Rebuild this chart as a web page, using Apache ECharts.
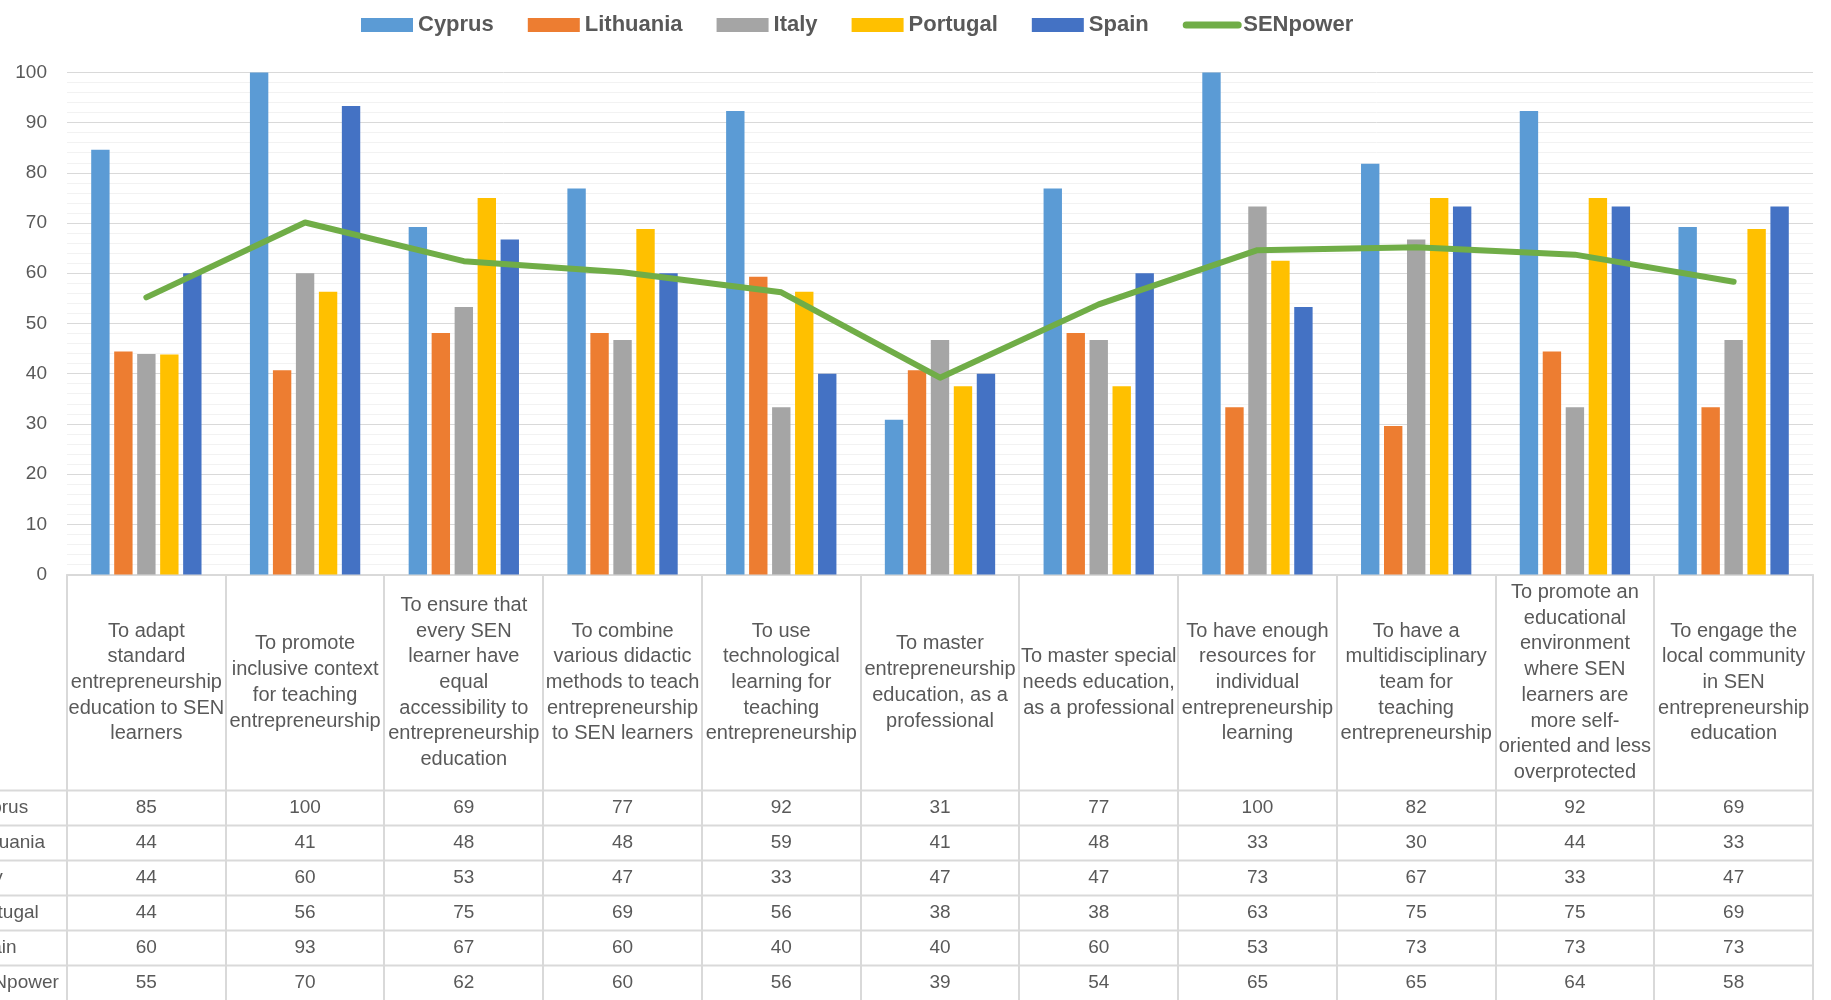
<!DOCTYPE html>
<html>
<head>
<meta charset="utf-8">
<title>SENpower</title>
<script src="https://cdn.jsdelivr.net/npm/echarts@6/dist/echarts.min.js"></script>
<style>
  html, body { margin: 0; padding: 0; background: #fff; }
  #main { width: 1831px; height: 1000px; }
</style>
</head>
<body>
<div id="main"></div>
<script>
// categories (line breaks as in the data table header)
var categories = [
  'To adapt\nstandard\nentrepreneurship\neducation to SEN\nlearners',
  'To promote\ninclusive context\nfor teaching\nentrepreneurship',
  'To ensure that\nevery SEN\nlearner have\nequal\naccessibility to\nentrepreneurship\neducation',
  'To combine\nvarious didactic\nmethods to teach\nentrepreneurship\nto SEN learners',
  'To use\ntechnological\nlearning for\nteaching\nentrepreneurship',
  'To master\nentrepreneurship\neducation, as a\nprofessional',
  'To master special\nneeds education,\nas a professional',
  'To have enough\nresources for\nindividual\nentrepreneurship\nlearning',
  'To have a\nmultidisciplinary\nteam for\nteaching\nentrepreneurship',
  'To promote an\neducational\nenvironment\nwhere SEN\nlearners are\nmore self-\noriented and less\noverprotected',
  'To engage the\nlocal community\nin SEN\nentrepreneurship\neducation'
];

var seriesNames = ['Cyprus', 'Lithuania', 'Italy', 'Portugal', 'Spain', 'SENpower'];
var cyprus    = [84.6, 100, 69.2, 76.9, 92.3, 30.8, 76.9, 100, 81.8, 92.3, 69.2];
var lithuania = [44.4, 40.7, 48.1, 48.1, 59.3, 40.7, 48.1, 33.3, 29.6, 44.4, 33.3];
var italy     = [43.9, 60, 53.3, 46.7, 33.3, 46.7, 46.7, 73.3, 66.7, 33.3, 46.7];
var portugal  = [43.8, 56.3, 75, 68.8, 56.3, 37.5, 37.5, 62.5, 75, 75, 68.8];
var spain     = [60, 93.3, 66.7, 60, 40, 40, 60, 53.3, 73.3, 73.3, 73.3];
var senpower  = [55.2, 70.1, 62.4, 60.2, 56.2, 39.2, 53.8, 64.6, 65.2, 63.7, 58.3];

var colors = ['#5B9BD5', '#ED7D31', '#A5A5A5', '#FFC000', '#4472C4', '#70AD47'];

(function () {
  var myChart = echarts.init(document.getElementById('main'));

  // plot area (px)
  var gridLeft = 67, gridRight = 18, gridTop = 72.4, gridBottom = 425.5;
  var chartW = 1831, chartH = 1000;
  var axisY = chartH - gridBottom;
  var catW = (chartW - gridLeft - gridRight) / categories.length;
  var headerH = 216, rowH = 35;
  var font = 'Liberation Sans';
  var txtColor = '#595959';
  var lineColor = '#D9D9D9';

  // data table under the chart, built from the same arrays
  var tableRows = [cyprus, lithuania, italy, portugal, spain, senpower];
  var graphics = [];
  for (var k = 0; k <= categories.length; k++) {
    var x = Math.round(gridLeft + k * catW);
    graphics.push({
      type: 'line',
      shape: { x1: x, y1: axisY, x2: x, y2: chartH },
      style: { stroke: lineColor, lineWidth: 2 }
    });
  }
  for (var r = 0; r < tableRows.length; r++) {
    var rowTop = axisY + headerH + r * rowH;
    graphics.push({
      type: 'line',
      shape: { x1: 0, y1: rowTop, x2: chartW - gridRight, y2: rowTop },
      style: { stroke: lineColor, lineWidth: 2 }
    });
    graphics.push({
      type: 'text',
      x: -32, y: rowTop + rowH / 2,
      style: {
        text: seriesNames[r], fill: txtColor, font: '19px "' + font + '"',
        textAlign: 'left', textVerticalAlign: 'middle'
      }
    });
    for (var c = 0; c < categories.length; c++) {
      graphics.push({
        type: 'text',
        x: gridLeft + (c + 0.5) * catW, y: rowTop + rowH / 2,
        style: {
          text: String(Math.round(tableRows[r][c])), fill: txtColor,
          font: '19px "' + font + '"', textAlign: 'center', textVerticalAlign: 'middle'
        }
      });
    }
  }

  function barSeries(name, data, color) {
    return {
      name: name,
      type: 'bar',
      data: data,
      barGap: '25%',
      barCategoryGap: '30.5%',
      itemStyle: { color: color },
      emphasis: { disabled: true }
    };
  }

  var option = {
    animation: false,
    color: colors,
    textStyle: { fontFamily: font },
    legend: {
      left: 356,
      top: 9,
      itemWidth: 52,
      itemHeight: 14,
      itemGap: 34,
      textStyle: { fontSize: 22, fontWeight: 'bold', color: txtColor, fontFamily: font },
      data: [
        { name: 'Cyprus', icon: 'rect' },
        { name: 'Lithuania', icon: 'rect' },
        { name: 'Italy', icon: 'rect' },
        { name: 'Portugal', icon: 'rect' },
        { name: 'Spain', icon: 'rect' },
        {
          name: 'SENpower',
          itemStyle: { opacity: 0 },
          lineStyle: { width: 7, cap: 'round', color: colors[5] }
        }
      ]
    },
    grid: { left: gridLeft, right: gridRight, top: gridTop, bottom: gridBottom },
    xAxis: {
      type: 'category',
      data: categories,
      axisLine: { lineStyle: { color: lineColor, width: 2 } },
      axisTick: { show: false },
      axisLabel: {
        interval: 0,
        margin: headerH / 2,
        verticalAlign: 'middle',
        lineHeight: 25.7,
        fontSize: 20,
        color: txtColor,
        fontFamily: font
      }
    },
    yAxis: {
      type: 'value',
      min: 0,
      max: 100,
      interval: 10,
      axisLine: { show: false },
      axisTick: { show: false },
      axisLabel: { fontSize: 19, color: txtColor, margin: 20, fontFamily: font },
      splitLine: { lineStyle: { color: lineColor, width: 1 } },
      minorTick: { show: false, splitNumber: 5 },
      minorSplitLine: { show: true, lineStyle: { color: '#F2F2F2', width: 1 } }
    },
    series: [
      barSeries('Cyprus', cyprus, colors[0]),
      barSeries('Lithuania', lithuania, colors[1]),
      barSeries('Italy', italy, colors[2]),
      barSeries('Portugal', portugal, colors[3]),
      barSeries('Spain', spain, colors[4]),
      {
        name: 'SENpower',
        type: 'line',
        data: senpower,
        symbol: 'none',
        z: 5,
        lineStyle: { color: colors[5], width: 6, cap: 'round', join: 'round' },
        itemStyle: { color: colors[5] },
        emphasis: { disabled: true }
      }
    ],
    graphic: graphics
  };
  myChart.setOption(option);
})();
</script>
</body>
</html>
